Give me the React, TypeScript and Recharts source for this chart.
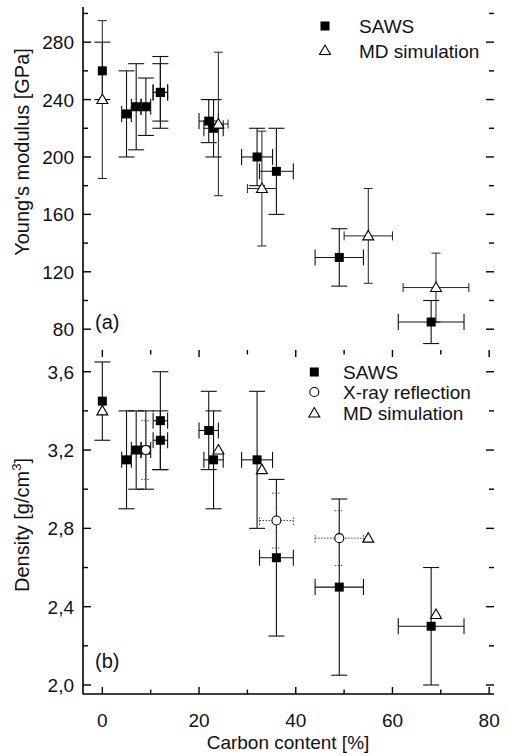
import { ScatterChart, Scatter, XAxis, YAxis, ErrorBar } from "recharts";

// axis ticks (all), and the ones carrying labels
const carbonTicks = [0, 10, 20, 30, 40, 50, 60, 70, 80];
const carbonLabels = [0, 20, 40, 60, 80];
const modulusTicks = [80, 100, 120, 140, 160, 180, 200, 220, 240, 260, 280, 300];
const modulusLabels = [80, 120, 160, 200, 240, 280];
const densityTicks = [2.0, 2.2, 2.4, 2.6, 2.8, 3.0, 3.2, 3.4, 3.6];
const densityLabels = [2.0, 2.4, 2.8, 3.2, 3.6];

// SAWS measurements
const sawsCarbon = [0, 5, 7, 9, 12, 12, 22, 23, 32, 36, 49, 68];
const sawsCarbonErr = [0, 1, 1, 1, 1.5, 1.5, 2, 2, 3.2, 3.5, 5, 6.8];
const sawsModulus = [260, 230, 235, 235, 245, 245, 225, 220, 200, 190, 130, 85];
const sawsModulusErr = [20, 30, 30, 20, 25, 20, 15, 20, 20, 30, 20, 15];
const sawsDensity = [3.45, 3.15, 3.2, 3.2, 3.35, 3.25, 3.3, 3.15, 3.15, 2.65, 2.5, 2.3];
const sawsDensityErr = [0.2, 0.25, 0.2, 0.2, 0.25, 0.15, 0.2, 0.25, 0.35, 0.4, 0.45, 0.3];

// MD simulation
const mdCarbon = [0, 24, 33, 55, 69];
const mdCarbonErr = [0, 2, 3, 5, 6.8];
const mdModulus = [240, 223, 178, 145, 109];
const mdModulusErr = [55, 50, 40, 33, 24];
const mdDensity = [3.4, 3.2, 3.1, 2.75, 2.36];

// X-ray reflection
const xrayCarbon = [9, 36, 49];
const xrayCarbonErr = [0, 3.5, 5];
const xrayDensity = [3.2, 2.84, 2.75];
const xrayDensityErr = [0.15, 0.14, 0.14];

const FONT = "'Liberation Sans', Arial, Helvetica, sans-serif";
const PLOT_W = 411;
const TICK = "#000";

const zip = (xs: number[], ys: number[], ex?: number[], ey?: number[]) =>
  xs.map((x, i) => ({ x, y: ys[i], ex: ex ? ex[i] : 0, ey: ey ? ey[i] : 0 }));

const sawsTop = zip(sawsCarbon, sawsModulus, sawsCarbonErr, sawsModulusErr);
const mdTop = zip(mdCarbon, mdModulus, mdCarbonErr, mdModulusErr);
const sawsBottom = zip(sawsCarbon, sawsDensity, sawsCarbonErr, sawsDensityErr);
const xrayBottom = zip(xrayCarbon, xrayDensity, xrayCarbonErr, xrayDensityErr);
const mdBottom = zip(mdCarbon, mdDensity);

const isMajor = (v: number, labels: number[]) => labels.some((l) => Math.abs(l - v) < 1e-6);

// bottom axis tick: inward marks on the bottom and top frame, optional label
function xTick(labels: number[], plotH: number, showLabel: boolean) {
  return (props: any) => {
    const { x, y, payload } = props;
    const major = isMajor(payload.value, labels);
    const len = major ? 7 : 4.5;
    const top = y - plotH;
    return (
      <g>
        <line x1={x} x2={x} y1={y} y2={y - len} stroke={TICK} strokeWidth={1.4} />
        <line x1={x} x2={x} y1={top} y2={top + len} stroke={TICK} strokeWidth={1.4} />
        {showLabel && major ? (
          <text x={x} y={y + 33} textAnchor="middle" fontSize={19} fontFamily={FONT} fill="#111">
            {payload.value}
          </text>
        ) : null}
      </g>
    );
  };
}

// left axis tick: inward marks on the left and right frame plus label
function yTick(labels: number[], fmt: (v: number) => string) {
  return (props: any) => {
    const { x, y, payload } = props;
    const major = isMajor(payload.value, labels);
    const len = major ? 8 : 5;
    const right = x + PLOT_W;
    return (
      <g>
        <line x1={x} x2={x + len} y1={y} y2={y} stroke={TICK} strokeWidth={1.4} />
        <line x1={right} x2={right - len} y1={y} y2={y} stroke={TICK} strokeWidth={1.4} />
        {major ? (
          <text x={x - 9} y={y + 7} textAnchor="end" fontSize={19} fontFamily={FONT} fill="#111">
            {fmt(payload.value)}
          </text>
        ) : null}
      </g>
    );
  };
}

const square = (p: any) => <rect x={p.cx - 4.5} y={p.cy - 4.5} width={9} height={9} fill="#000" />;
const triangle = (p: any) => (
  <path
    d={`M${p.cx},${p.cy - 5.5} L${p.cx + 5.5},${p.cy + 4} L${p.cx - 5.5},${p.cy + 4} Z`}
    fill="#fff"
    stroke="#000"
    strokeWidth={1.1}
  />
);
const circle = (p: any) => <circle cx={p.cx} cy={p.cy} r={4.5} fill="#fff" stroke="#000" strokeWidth={1.1} />;

const axisLine = { stroke: "#000", strokeWidth: 1.6 };
const fmtModulus = (v: number) => String(v);
const fmtDensity = (v: number) => v.toFixed(1).replace(".", ",");
const X_DOMAIN: [number, number] = [-4, 81];

function frameAxes(plotH: number, labelled: boolean, domain: [number, number], ticks: number[], labels: number[], fmt: (v: number) => string) {
  return [
    <XAxis
      key="xb"
      xAxisId="xb"
      type="number"
      dataKey="x"
      domain={X_DOMAIN}
      allowDataOverflow
      ticks={carbonTicks}
      interval={0}
      height={labelled ? 62 : 0}
      tickSize={0}
      tickMargin={0}
      tickLine={false}
      axisLine={axisLine}
      tick={xTick(carbonLabels, plotH, labelled)}
    />,
    <XAxis key="xt" xAxisId="xt" orientation="top" type="number" domain={X_DOMAIN} height={0} axisLine={axisLine} tick={false} tickLine={false} />,
    <YAxis
      key="yl"
      yAxisId="yl"
      type="number"
      dataKey="y"
      domain={domain}
      allowDataOverflow
      ticks={ticks}
      interval={0}
      width={83}
      tickSize={0}
      tickMargin={0}
      tickLine={false}
      axisLine={axisLine}
      tick={yTick(labels, fmt)}
    />,
    <YAxis key="yr" yAxisId="yr" orientation="right" type="number" domain={domain} width={0} axisLine={axisLine} tick={false} tickLine={false} />,
  ];
}

function LegendRow({ x, y, text, children }: { x: number; y: number; text: string; children: any }) {
  return (
    <g>
      {children}
      <text x={x} y={y + 7} fontSize={19} fontFamily={FONT} fill="#111">
        {text}
      </text>
    </g>
  );
}

export default function App() {
  return (
    <div style={{ position: "absolute", left: 0, top: 0, width: 509, height: 756, background: "#fff" }}>
      <div style={{ position: "absolute", left: 0, top: 0 }}>
        <ScatterChart width={509} height={350} margin={{ top: 7, right: 15, bottom: 0, left: 0 }}>
          {frameAxes(343, false, [65.5, 304.5], modulusTicks, modulusLabels, fmtModulus)}
          <Scatter data={sawsTop} xAxisId="xb" yAxisId="yl" shape={square} isAnimationActive={false}>
            <ErrorBar dataKey="ey" direction="y" width={8} stroke="#111" strokeWidth={1.1} />
            <ErrorBar dataKey="ex" direction="x" width={8} stroke="#111" strokeWidth={1.1} />
          </Scatter>
          <Scatter data={mdTop} xAxisId="xb" yAxisId="yl" shape={triangle} isAnimationActive={false}>
            <ErrorBar dataKey="ey" direction="y" width={4.5} stroke="#222" strokeWidth={1} />
            <ErrorBar dataKey="ex" direction="x" width={4.5} stroke="#222" strokeWidth={1} />
          </Scatter>
        </ScatterChart>
      </div>

      <div style={{ position: "absolute", left: 0, top: 340 }}>
        <ScatterChart width={509} height={416} margin={{ top: 10, right: 15, bottom: 0, left: 0 }}>
          {frameAxes(344, true, [1.954, 3.711], densityTicks, densityLabels, fmtDensity)}
          <Scatter data={sawsBottom} xAxisId="xb" yAxisId="yl" shape={square} isAnimationActive={false}>
            <ErrorBar dataKey="ey" direction="y" width={8} stroke="#111" strokeWidth={1.1} />
            <ErrorBar dataKey="ex" direction="x" width={8} stroke="#111" strokeWidth={1.1} />
          </Scatter>
          <Scatter data={xrayBottom} xAxisId="xb" yAxisId="yl" shape={circle} isAnimationActive={false}>
            <ErrorBar dataKey="ey" direction="y" width={4.5} stroke="#444" strokeWidth={1} strokeDasharray="1.5 1.5" />
            <ErrorBar dataKey="ex" direction="x" width={4.5} stroke="#444" strokeWidth={1} strokeDasharray="1.5 1.5" />
          </Scatter>
          <Scatter data={mdBottom} xAxisId="xb" yAxisId="yl" shape={triangle} isAnimationActive={false} />
        </ScatterChart>
      </div>

      <svg
        width={509}
        height={756}
        style={{ position: "absolute", left: 0, top: 0, pointerEvents: "none" }}
        fontFamily={FONT}
      >
        <text transform="translate(29,152) rotate(-90)" textAnchor="middle" fontSize={20} fill="#111">
          Young's modulus [GPa]
        </text>
        <text transform="translate(29,525) rotate(-90)" textAnchor="middle" fontSize={20} fill="#111">
          Density [g/cm<tspan dy={-8} fontSize={13}>3</tspan>
          <tspan dy={8}>]</tspan>
        </text>
        <text x={288} y={749} textAnchor="middle" fontSize={19} fill="#111">
          Carbon content [%]
        </text>
        <text x={95} y={329} fontSize={20} fill="#111">
          (a)
        </text>
        <text x={95} y={668} fontSize={20} fill="#111">
          (b)
        </text>

        <LegendRow x={359} y={26} text="SAWS">
          <rect x={320.5} y={21.5} width={9} height={9} fill="#000" />
        </LegendRow>
        <LegendRow x={359} y={50.5} text="MD simulation">
          <path d="M325,45 L330.5,54.5 L319.5,54.5 Z" fill="#fff" stroke="#000" strokeWidth={1.1} />
        </LegendRow>

        <LegendRow x={343} y={372} text="SAWS">
          <rect x={309.8} y={367.5} width={9} height={9} fill="#000" />
        </LegendRow>
        <LegendRow x={343} y={392} text="X-ray reflection">
          <circle cx={314.3} cy={392} r={4.5} fill="#fff" stroke="#000" strokeWidth={1.1} />
        </LegendRow>
        <LegendRow x={343} y={413} text="MD simulation">
          <path d="M314.3,407.5 L319.8,417 L308.8,417 Z" fill="#fff" stroke="#000" strokeWidth={1.1} />
        </LegendRow>
      </svg>
    </div>
  );
}
